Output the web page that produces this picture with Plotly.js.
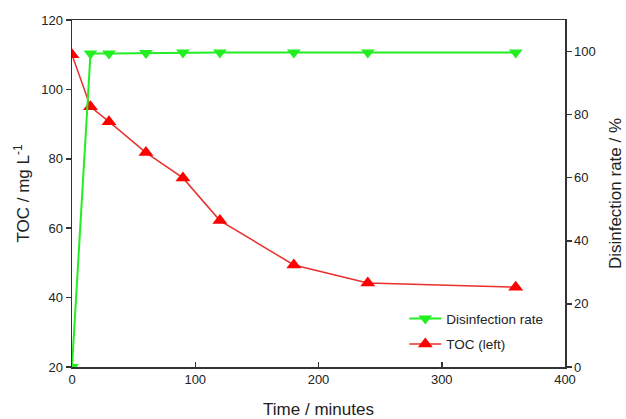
<!DOCTYPE html>
<html>
<head>
<meta charset="utf-8">
<script src="https://cdn.plot.ly/plotly-3.0.1.min.js"></script>
<style>html,body{margin:0;padding:0;background:#fff;}#chart{width:626px;height:419px;}</style>
</head>
<body>
<div id="chart"></div>
<script>
// Data
const timeMinutes = [0, 15, 30, 60, 90, 120, 180, 240, 360];
const tocValues = [110, 95, 90.7, 81.8, 74.5, 62.2, 49.4, 44.2, 43];
const disinfectionRate = [0, 99.4, 99.4, 99.5, 99.7, 99.7, 99.7, 99.7, 99.7];
const xTicks = [0, 100, 200, 300, 400];
const yLeftTicks = [20, 40, 60, 80, 100, 120];
const yRightTicks = [0, 20, 40, 60, 80, 100];

const fontFam = 'Liberation Sans, Arial, sans-serif';
const axisColor = '#333';

const traces = [
  {
    x: timeMinutes, y: disinfectionRate, yaxis: 'y2',
    name: 'Disinfection rate', legendgroup: 'a', type: 'scatter', mode: 'lines+markers',
    line: {color: '#22ee22', width: 2},
    marker: {symbol: 'triangle-down', size: 12, color: '#22ee22'}
  },
  {
    x: timeMinutes, y: tocValues, yaxis: 'y',
    name: 'TOC (left)', legendgroup: 'b', type: 'scatter', mode: 'lines+markers',
    line: {color: '#e8302c', width: 1.5},
    marker: {symbol: 'triangle-up', size: 13, color: '#ff0000'}
  }
];

const layout = {
  width: 626, height: 419,
  margin: {l: 72, r: 61, t: 20, b: 52},
  paper_bgcolor: '#fff', plot_bgcolor: '#fff',
  font: {family: fontFam, size: 13, color: '#222'},
  showlegend: true,
  legend: {
    x: 0.674, y: 0.184, xanchor: 'left', yanchor: 'top',
    bgcolor: 'rgba(0,0,0,0)', font: {size: 13.5, color: '#222'},
    traceorder: 'grouped', tracegroupgap: 5, itemwidth: 32
  },
  xaxis: {
    range: [0, 400], tickvals: xTicks, ticktext: xTicks.map(String),
    showline: true, linecolor: axisColor, linewidth: 1.5, mirror: true,
    ticks: 'inside', ticklen: 5, tickcolor: axisColor, tickwidth: 1.5,
    showgrid: false, zeroline: false,
    title: {text: 'Time / minutes', font: {size: 17, color: '#222'}, standoff: 17},
    tickfont: {size: 13}
  },
  yaxis: {
    range: [20, 120], tickvals: yLeftTicks, ticktext: yLeftTicks.map(String),
    showline: true, linecolor: axisColor, linewidth: 1.5,
    ticks: 'outside', ticklen: 5, tickcolor: axisColor, tickwidth: 1.5,
    showgrid: false, zeroline: false,
    title: {text: 'TOC / mg L<sup>-1</sup>', font: {size: 17, color: '#222'}, standoff: 7},
    tickfont: {size: 13}
  },
  yaxis2: {
    overlaying: 'y', side: 'right',
    range: [0, 110], tickvals: yRightTicks, ticktext: yRightTicks.map(String),
    showline: true, linecolor: axisColor, linewidth: 1.5,
    ticks: 'outside', ticklen: 5, tickcolor: axisColor, tickwidth: 1.5,
    showgrid: false, zeroline: false,
    title: {text: 'Disinfection rate / %', font: {size: 17, color: '#222'}, standoff: 14},
    tickfont: {size: 13}
  }
};

Plotly.newPlot('chart', traces, layout, {displayModeBar: false, staticPlot: true});
</script>
</body>
</html>
